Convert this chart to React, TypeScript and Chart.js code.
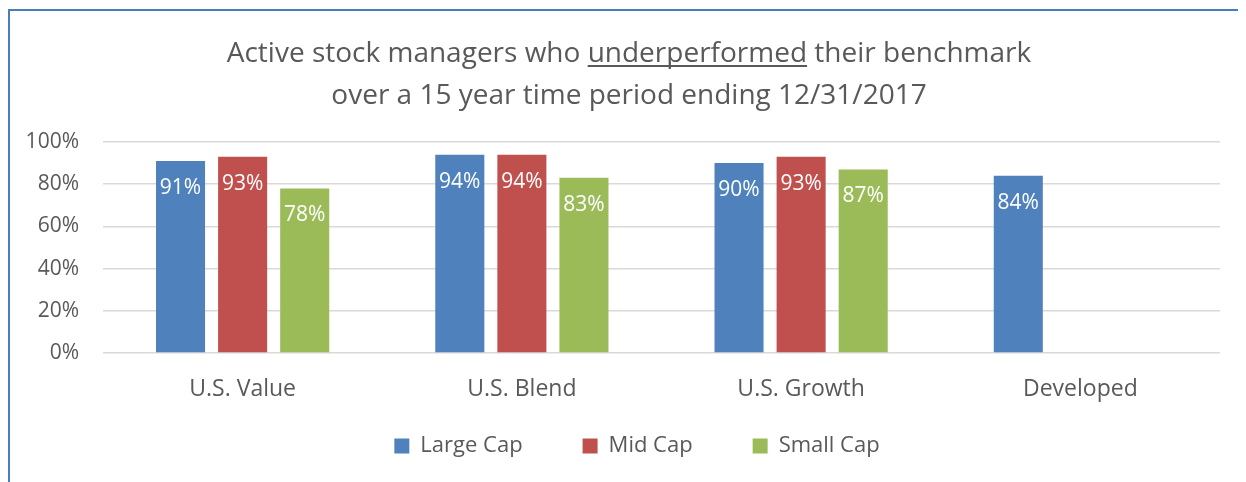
import React, { useEffect, useRef } from "react";
import { Chart, registerables } from "chart.js";

Chart.register(...registerables);

const categories = ["U.S. Value", "U.S. Blend", "U.S. Growth", "Developed"];
const largeCap = [91, 94, 90, 84];
const midCap = [93, 94, 93, null];
const smallCap = [78, 83, 87, null];
const seriesNames = ["Large Cap", "Mid Cap", "Small Cap"];
const yTicks = [0, 20, 40, 60, 80, 100];
const titleLines = [
  "Active stock managers who underperformed their benchmark",
  "over a 15 year time period ending 12/31/2017",
];
const underlinedWord = "underperformed";

const FONT = "'Open Sans', 'Noto Sans', sans-serif";
const GRAY = "#595959";
const TITLE_SIZE = 28;
const TITLE_PAD_TOP = 22;
const TITLE_SHIFT_X = 9;
const LEGEND_PAD = 60;
const LEGEND_HEIGHT = 50;
const LEGEND_SHIFT = 49;
const LEGEND_SHIFT_X = 17;

const barLabels = {
  id: "barLabels",
  afterDatasetsDraw(chart: any) {
    const ctx = chart.ctx;
    ctx.save();
    ctx.font = `21px ${FONT}`;
    ctx.fillStyle = "#ffffff";
    ctx.textAlign = "center";
    ctx.textBaseline = "middle";
    chart.data.datasets.forEach((ds: any, di: number) => {
      const meta = chart.getDatasetMeta(di);
      meta.data.forEach((el: any, i: number) => {
        const v = ds.data[i];
        if (v == null) return;
        ctx.fillText(`${v}%`, el.x, el.y + 27);
      });
    });
    ctx.restore();
  },
};

const boxPlacement = {
  id: "boxPlacement",
  afterInit(chart: any) {
    const lg = chart.legend;
    if (lg) {
      const fit = lg.fit.bind(lg);
      lg.fit = function () {
        fit();
        this.height = LEGEND_HEIGHT;
      };
      const draw = lg.draw.bind(lg);
      lg.draw = function (...args: any[]) {
        const t = this.top, l = this.left, r = this.right;
        this.top = t - LEGEND_SHIFT;
        this.left = l + LEGEND_SHIFT_X;
        this.right = r + LEGEND_SHIFT_X;
        draw(...args);
        this.top = t;
        this.left = l;
        this.right = r;
      };
    }
    const tb = chart.titleBlock;
    if (tb) {
      const draw = tb.draw.bind(tb);
      tb.draw = function (...args: any[]) {
        const l = this.left, r = this.right;
        this.left = l + TITLE_SHIFT_X;
        this.right = r + TITLE_SHIFT_X;
        draw(...args);
        this.left = l;
        this.right = r;
      };
    }
  },
};

const titleUnderline = {
  id: "titleUnderline",
  afterDraw(chart: any) {
    const tb = chart.titleBlock;
    if (!tb) return;
    const ctx = chart.ctx;
    const lineHeight = TITLE_SIZE * 1.5;
    ctx.save();
    ctx.font = `${TITLE_SIZE}px ${FONT}`;
    const line = titleLines[0];
    const full = ctx.measureText(line).width;
    const cx = (tb.left + tb.right) / 2 + TITLE_SHIFT_X;
    const start = cx - full / 2;
    const idx = line.indexOf(underlinedWord);
    const pre = ctx.measureText(line.slice(0, idx)).width;
    const w = ctx.measureText(underlinedWord).width;
    const y = tb.top + TITLE_PAD_TOP + lineHeight / 2 + 11;
    ctx.fillStyle = GRAY;
    ctx.fillRect(start + pre, y, w, 2);
    ctx.restore();
  },
};

export default function App() {
  const ref = useRef<HTMLCanvasElement>(null);
  useEffect(() => {
    document.body.style.overflow = "hidden";
    const chart = new Chart(ref.current!, {
      type: "bar",
      data: {
        labels: categories,
        datasets: [
          { label: seriesNames[0], data: largeCap, backgroundColor: "#4F81BD" },
          { label: seriesNames[1], data: midCap, backgroundColor: "#C0504D" },
          { label: seriesNames[2], data: smallCap, backgroundColor: "#9BBB59" },
        ] as any,
      },
      options: {
        animation: false,
        responsive: false,
        maintainAspectRatio: false,
        datasets: {
          bar: { categoryPercentage: 0.667, barPercentage: 0.79 },
        } as any,
        layout: { padding: { left: 10, right: 18, top: 0, bottom: 0 } },
        plugins: {
          title: {
            display: true,
            text: titleLines,
            color: GRAY,
            font: { family: FONT, size: TITLE_SIZE, weight: "normal", lineHeight: 1.5 },
            padding: { top: TITLE_PAD_TOP, bottom: 25 },
          },
          legend: {
            position: "bottom",
            labels: {
              color: GRAY,
              font: { family: FONT, size: 22 },
              boxWidth: 15,
              boxHeight: 15,
              padding: LEGEND_PAD,
            },
          },
          tooltip: { enabled: false },
        },
        scales: {
          y: {
            min: 0,
            max: 100,
            afterBuildTicks(scale: any) {
              scale.ticks = yTicks.map((v) => ({ value: v }));
            },
            afterFit(scale: any) {
              scale.width = 83;
            },
            ticks: {
              color: GRAY,
              font: { family: FONT, size: 21 },
              padding: 24,
              callback: (v: any) => `${v}%`,
            },
            grid: { color: "#D9D9D9", lineWidth: 1.5, drawTicks: false },
            border: { display: false },
          },
          x: {
            afterFit(scale: any) {
              scale.height = 71;
            },
            ticks: {
              color: GRAY,
              font: { family: FONT, size: 23 },
              padding: 23,
            },
            grid: { display: false, drawTicks: false },
            border: { display: false },
          },
        },
      },
      plugins: [barLabels, titleUnderline, boxPlacement],
    });
    return () => chart.destroy();
  }, []);
  return (
    <div
      style={{
        marginTop: 1,
        borderTop: "2px solid #4A7EBB",
        borderLeft: "2px solid #4A7EBB",
        width: 1228,
        height: 480,
      }}
    >
      <canvas ref={ref} width={1228} height={463} style={{ display: "block" }} />
    </div>
  );
}
